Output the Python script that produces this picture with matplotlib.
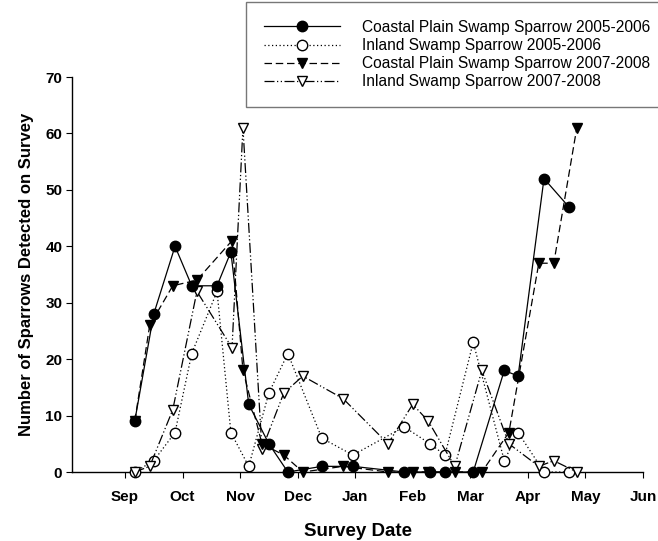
import matplotlib
matplotlib.use('Agg')
import matplotlib.pyplot as plt

plt.rcParams['font.family'] = ['Liberation Sans', 'DejaVu Sans']

# survey dates as months after 1 Sep (Sep = 0, Oct = 1, ...)
dates_0506 = [0.17, 0.50, 0.87, 1.16, 1.60, 1.84, 2.15, 2.50, 2.83, 3.42,
              3.96, 4.85, 5.30, 5.56, 6.05, 6.59, 6.83, 7.28, 7.71]
dates_0708 = [0.17, 0.43, 0.83, 1.25, 1.86, 2.05, 2.38, 2.76, 3.09, 3.79,
              4.57, 5.00, 5.27, 5.73, 6.20, 6.67, 7.19, 7.45, 7.85]

coastal_0506 = [9, 28, 40, 33, 33, 39, 12, 5, 0, 1, 1, 0, 0, 0, 0, 18, 17, 52, 47]
inland_0506 = [0, 2, 7, 21, 32, 7, 1, 14, 21, 6, 3, 8, 5, 3, 23, 2, 7, 0, 0]
coastal_0708 = [9, 26, 33, 34, 41, 18, 5, 3, 0, 1, 0, 0, 0, 0, 0, 7, 37, 37, 61]
inland_0708 = [0, 1, 11, 32, 22, 61, 4, 14, 17, 13, 5, 12, 9, 1, 18, 5, 1, 2, 0]

month_labels = ['Sep', 'Oct', 'Nov', 'Dec', 'Jan', 'Feb', 'Mar', 'Apr', 'May', 'Jun']

fig = plt.figure(figsize=(6.58, 5.41), dpi=100)
ax = fig.add_axes([72 / 658, 1 - 472 / 541, 571 / 658, 395 / 541])

ms = 7.5
lw = 0.9
ax.plot(dates_0506, coastal_0506, color='black', ls='-', lw=lw, marker='o', ms=ms,
        mfc='black', mec='black', clip_on=False, zorder=4,
        label='Coastal Plain Swamp Sparrow 2005-2006')
ax.plot(dates_0506, inland_0506, color='black', ls=(0, (1, 2)), lw=lw, marker='o', ms=ms,
        mfc='white', mec='black', clip_on=False, zorder=3,
        label='Inland Swamp Sparrow 2005-2006')
ax.plot(dates_0708, coastal_0708, color='black', ls=(0, (6, 3)), lw=lw, marker='v', ms=ms,
        mfc='black', mec='black', clip_on=False, zorder=4,
        label='Coastal Plain Swamp Sparrow 2007-2008')
ax.plot(dates_0708, inland_0708, color='black', ls=(0, (8, 2, 1, 2, 1, 2)), lw=lw, marker='v', ms=ms,
        mfc='white', mec='black', clip_on=False, zorder=3,
        label='Inland Swamp Sparrow 2007-2008')

ax.set_xlim(-0.92, 9)
ax.set_ylim(0, 70)
ax.set_xticks(range(len(month_labels)))
ax.set_xticklabels(month_labels)
ax.set_yticks(range(0, 71, 10))
for s in ['top', 'right']:
    ax.spines[s].set_visible(False)
for s in ['left', 'bottom']:
    ax.spines[s].set_linewidth(1.0)
ax.tick_params(direction='out', length=4, width=0.8, labelsize=11, pad=9)
ax.tick_params(axis='y', pad=3)
for t in ax.get_xticklabels() + ax.get_yticklabels():
    t.set_fontweight('bold')

ax.set_xlabel('Survey Date', fontsize=13.5, fontweight='bold', labelpad=14)
ax.set_ylabel('Number of Sparrows Detected on Survey', fontsize=12, fontweight='bold', labelpad=8)

leg = fig.legend(loc='upper left', bbox_to_anchor=(246 / 658, 1 - 2 / 541), fontsize=11.2,
                 handlelength=4.9, handletextpad=1.4, numpoints=1, fancybox=False,
                 borderpad=1.15, labelspacing=0.2, borderaxespad=0)
leg.get_frame().set_edgecolor('#555555')
leg.get_frame().set_linewidth(1.0)

fig.savefig('out.png', dpi=100)
